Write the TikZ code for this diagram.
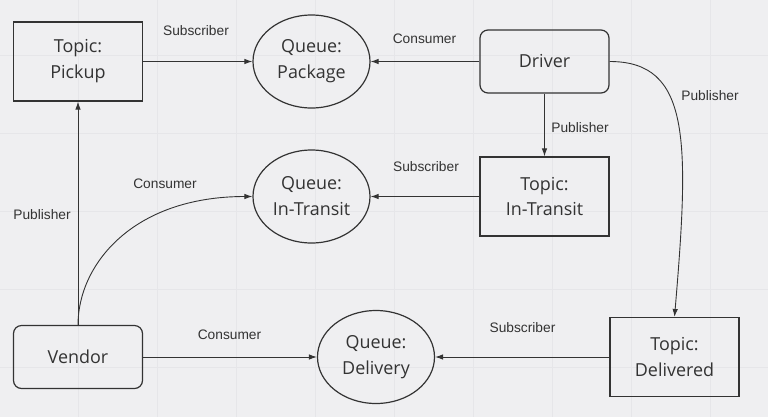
\documentclass[tikz,border=0pt]{standalone}
\usepackage{fontspec}
\setmainfont{Open Sans}
\newfontfamily\lblfont{Liberation Sans}
\usepackage{xcolor}
\usepackage{tikz}
\usetikzlibrary{arrows.meta,positioning,shapes.geometric}
\definecolor{bgcol}{HTML}{EFEFF1}
\definecolor{gridcol}{HTML}{E6E6E9}
\definecolor{inkcol}{HTML}{333333}
\tikzset{
  topic/.style  ={rectangle,draw=inkcol,line width=1.2pt,minimum width=129bp,minimum height=79bp,inner sep=0pt,align=center,text=inkcol,font=\fontsize{18}{26}\selectfont},
  queue/.style  ={ellipse,draw=inkcol,line width=1.2pt,minimum width=117bp,minimum height=93bp,inner sep=0pt,align=center,text=inkcol,font=\fontsize{18}{26}\selectfont},
  actor/.style  ={rectangle,rounded corners=8bp,draw=inkcol,line width=1.2pt,minimum width=129bp,minimum height=63bp,inner sep=0pt,align=center,text=inkcol,font=\fontsize{18}{26}\selectfont},
  flow/.style   ={inkcol,line width=0.9pt,-{Latex[length=8bp,width=5.5bp]}},
  lbl/.style    ={anchor=base,inner sep=0pt,text=inkcol,font=\lblfont\fontsize{13.8}{16}\selectfont},
}

\begin{document}
\begin{tikzpicture}[x=1bp,y=-1bp]
  \useasboundingbox (0,0) rectangle (768,417);
  \fill[bgcol] (0,0) rectangle (768,417);
  % faint grid
  \foreach \gx in {78,157,...,710}{
     \draw[gridcol,line width=0.6pt] (\gx,0) -- (\gx,417);
  }
  \foreach \gy in {55,133,211,289,367}{
     \draw[gridcol,line width=0.6pt] (0,\gy) -- (768,\gy);
  }

  % topics, queues and actors
  \node[topic] (tpickup)    at (78,61.5)    {Topic:\\Pickup};
  \node[topic] (tintransit) at (544.5,196.5) {Topic:\\In-Transit};
  \node[topic] (tdelivered) at (674.5,357)   {Topic:\\Delivered};
  \node[queue] (qpackage)   at (311.5,61.5)  {Queue:\\Package};
  \node[queue] (qintransit) at (311.5,196.5) {Queue:\\In-Transit};
  \node[queue] (qdelivery)  at (376,357)     {Queue:\\Delivery};
  \node[actor] (driver)     at (544.5,61.5)  {Driver};
  \node[actor] (vendor)     at (78,357)      {Vendor};

  % connectors
  \draw[flow] (tpickup) -- (qpackage);
  \draw[flow] (driver) -- (qpackage);
  \draw[flow] (driver) -- (tintransit);
  \draw[flow] (driver.east) .. controls +(81,0) and +(15,-177) .. (tdelivered.north);
  \draw[flow] (tintransit) -- (qintransit);
  \draw[flow] (vendor) -- (tpickup);
  \draw[flow] (vendor.north) .. controls +(0,-60) and +(-120,0) .. (qintransit.west);
  \draw[flow] (vendor) -- (qdelivery);
  \draw[flow] (tdelivered) -- (qdelivery);

  % edge labels
  \node[lbl] (lsubpickup)  at (196,35)    {Subscriber};
  \node[lbl] (lconsdriver) at (424.5,43)  {Consumer};
  \node[lbl] (lpubtransit) at (580,132)   {Publisher};
  \node[lbl] (lpubdeliv)   at (710,100)   {Publisher};
  \node[lbl] (lsubtransit) at (426,171)   {Subscriber};
  \node[lbl] (lconstransit) at (165,188)  {Consumer};
  \node[lbl] (lpubpickup)  at (42,219)    {Publisher};
  \node[lbl] (lconsvendor) at (229.5,339) {Consumer};
  \node[lbl] (lsubdeliv)   at (522.5,332) {Subscriber};
\end{tikzpicture}
\end{document}
